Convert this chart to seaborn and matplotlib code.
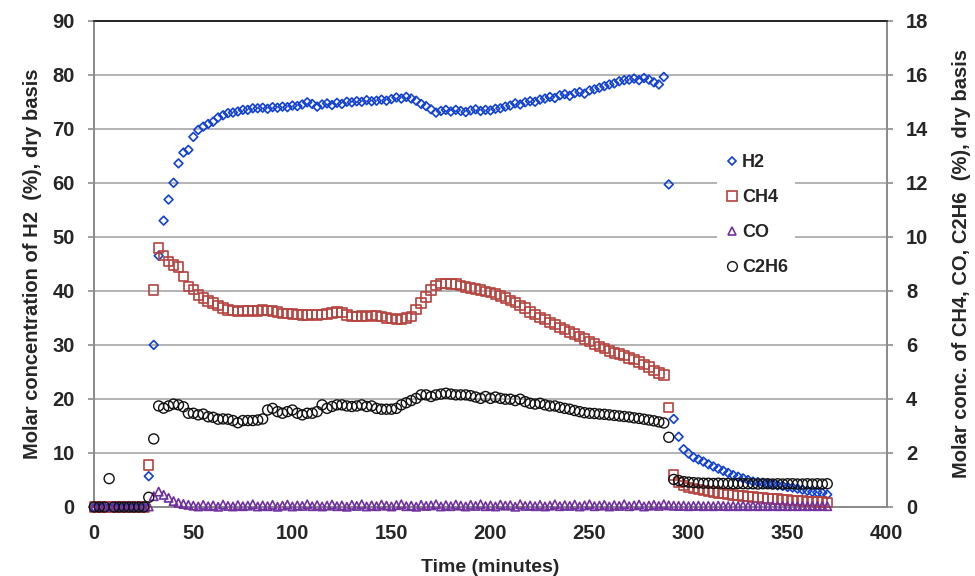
import matplotlib
matplotlib.use("Agg")
import matplotlib.pyplot as plt
from matplotlib.lines import Line2D
import numpy as np
import pandas as pd
import seaborn as sns

# sampling grid, one reading every 2.5 minutes
time_min = np.arange(0, 372.5, 2.5)

# H2, left axis (%)
h2 = [0.0] * 11 + [
    5.7, 30.0, 46.5, 53.0, 56.9, 60.0, 63.6, 65.6, 66.1, 68.5, 69.8, 70.4,
    70.9, 71.3, 72.1, 72.5, 72.9, 73.0, 73.2, 73.5, 73.5, 73.8, 73.8,
    73.9, 73.7, 74.0, 73.9, 74.1, 74.0, 74.3, 74.2, 74.5, 74.9,
    74.6, 74.1, 74.5, 74.7, 74.4, 74.8, 74.6, 75.0, 74.9, 75.1,
    75.0, 75.3, 75.1, 75.2, 75.4, 75.2, 75.5, 75.8, 75.6, 75.9,
    75.6, 75.2, 74.6, 74.2, 73.6, 73.0, 73.3, 73.5, 73.2, 73.5,
    73.3, 73.1, 73.4, 73.6, 73.3, 73.5, 73.4, 73.7, 73.8, 74.1,
    74.3, 74.7, 74.5, 74.9, 75.1, 75.0, 75.4, 75.6, 75.9, 75.7,
    76.2, 76.4, 76.1, 76.6, 76.8, 76.5, 77.1, 77.3, 77.6, 77.9,
    78.2, 78.4, 78.8, 79.0, 79.1, 79.3, 79.0, 79.4, 79.1, 78.6,
    78.2,
    79.6, 59.7, 16.3, 13.0, 10.7, 9.9, 9.2, 8.8, 8.4, 7.9, 7.5, 7.1,
    6.7, 6.3, 5.9, 5.6, 5.3, 5.0, 4.7, 4.6, 4.5, 4.3, 4.2, 4.0,
    3.9, 3.7, 3.6, 3.4, 3.2, 3.0, 2.8, 2.7, 2.6, 2.3,
]

# CH4, right axis (%)
ch4 = [0.0] * 11 + [
    1.56, 8.04, 9.58, 9.30, 9.09, 8.96, 8.88, 8.53, 8.16, 8.06,
    7.85, 7.73, 7.62, 7.55, 7.45, 7.36, 7.30, 7.27, 7.24, 7.27,
    7.25, 7.28, 7.26, 7.29, 7.27, 7.25, 7.22, 7.17, 7.16, 7.14,
    7.12, 7.11, 7.10, 7.12, 7.10, 7.13, 7.15, 7.18, 7.22, 7.20,
    7.10, 7.05, 7.06, 7.07, 7.05, 7.08, 7.07, 7.06, 7.00, 6.97,
    6.93, 6.96, 6.99, 7.05, 7.32, 7.55, 7.78, 8.04, 8.20, 8.27,
    8.28, 8.25, 8.26, 8.20, 8.15, 8.11, 8.07, 8.03, 7.98, 7.94,
    7.88, 7.81, 7.74, 7.64, 7.56, 7.46, 7.36, 7.22, 7.12, 7.02,
    6.93, 6.83, 6.76, 6.64, 6.56, 6.48, 6.40, 6.31, 6.22, 6.12,
    6.04, 5.95, 5.86, 5.77, 5.70, 5.66, 5.60, 5.52, 5.45, 5.36,
    5.28, 5.18, 5.06, 4.96, 4.88, 3.69, 1.18, 0.90, 0.80, 0.72,
    0.68, 0.64, 0.61, 0.58, 0.55, 0.52, 0.50, 0.47, 0.45, 0.43,
    0.41, 0.39, 0.37, 0.35, 0.33, 0.32, 0.30, 0.29, 0.27, 0.26,
    0.25, 0.23, 0.22, 0.21, 0.20, 0.19, 0.18, 0.17,
]

# CO, right axis (%)
co = [0.0] * 11 + [
    0.02, 0.40, 0.57, 0.45, 0.34, 0.22, 0.15, 0.11, 0.08,
    0.05, 0.02, 0.08, 0.03, 0.06, 0.01, 0.09, 0.04, 0.02, 0.07, 0.03, 0.05,
    0.10, 0.02, 0.06, 0.03, 0.08, 0.01, 0.05, 0.09, 0.02, 0.06, 0.04, 0.10,
    0.03, 0.07, 0.02, 0.05, 0.09, 0.03, 0.06, 0.01, 0.08, 0.04, 0.10, 0.02,
    0.06, 0.03, 0.09, 0.05, 0.02, 0.07, 0.10, 0.03, 0.05, 0.01, 0.08, 0.04,
    0.06, 0.10, 0.02, 0.07, 0.03, 0.09, 0.05, 0.02, 0.08, 0.04, 0.10, 0.03,
    0.06, 0.02, 0.09, 0.05, 0.07, 0.01, 0.10, 0.04, 0.06, 0.03, 0.08, 0.02,
    0.05, 0.10, 0.03, 0.07, 0.04, 0.09, 0.02, 0.06, 0.10, 0.03, 0.05, 0.08,
    0.02, 0.07, 0.04, 0.10, 0.03, 0.06, 0.09, 0.02, 0.05, 0.08, 0.04, 0.10,
    0.06, 0.05, 0.04, 0.05, 0.03, 0.04, 0.05, 0.03, 0.04, 0.03, 0.05, 0.04,
    0.03, 0.04, 0.03, 0.05, 0.03, 0.04, 0.03, 0.04, 0.03, 0.05, 0.03, 0.04,
    0.03, 0.04, 0.03, 0.04, 0.03, 0.04, 0.03, 0.04, 0.03,
]

# C2H6, right axis (%)
c2h6 = [0.0, 0.0, 0.0, 1.05, 0.0, 0.0, 0.0, 0.0, 0.0, 0.0, 0.0] + [
    0.36, 2.52, 3.74, 3.66, 3.74, 3.81, 3.78, 3.71, 3.47, 3.47,
    3.41, 3.44, 3.34, 3.32, 3.25, 3.26, 3.25, 3.20, 3.12, 3.20,
    3.20, 3.20, 3.22, 3.26, 3.59, 3.65,
    3.53, 3.47, 3.53, 3.59, 3.47, 3.41, 3.47, 3.47, 3.53, 3.78,
    3.65, 3.72, 3.78, 3.78, 3.74, 3.72, 3.74, 3.78, 3.72, 3.74,
    3.65, 3.62, 3.62, 3.62, 3.65, 3.78, 3.86, 3.94, 4.02, 4.15,
    4.15, 4.09, 4.15, 4.18, 4.21, 4.18, 4.15, 4.15, 4.15, 4.12,
    4.07, 4.02, 4.09, 4.02, 4.07, 4.02, 3.99, 3.99, 3.94, 3.99,
    3.90, 3.84, 3.81, 3.84, 3.78, 3.74, 3.74, 3.69, 3.65, 3.62,
    3.57, 3.53, 3.49,
    3.47, 3.46, 3.44, 3.43, 3.41, 3.39, 3.37, 3.35, 3.33, 3.30,
    3.28, 3.25, 3.22, 3.19, 3.15, 3.11,
    2.58,
    1.02, 0.98, 0.94, 0.92,
    0.90, 0.89, 0.88, 0.88, 0.87, 0.88, 0.87, 0.87, 0.86, 0.87,
    0.86, 0.86, 0.86, 0.85, 0.86, 0.86, 0.85, 0.86, 0.85, 0.86,
    0.86, 0.85, 0.85, 0.86, 0.85, 0.86, 0.85, 0.86,
]

df = pd.DataFrame({"time": time_min, "H2": h2, "CH4": ch4, "CO": co, "C2H6": c2h6})

BLUE = "#1241D2"
RED = "#B4423E"
PURPLE = "#7030A0"
BLACK = "#111111"
GRID = "#A6A6A6"
SPINE = "#8C8C8C"

sns.set_theme(style="white")
plt.rcParams["font.family"] = ["Liberation Sans", "DejaVu Sans"]

fig = plt.figure(figsize=(9.75, 5.76), dpi=100)
ax = fig.add_axes([0.0967, 0.1198, 0.8127, 0.8442])
ax2 = ax.twinx()

sns.scatterplot(data=df, x="time", y="H2", ax=ax, marker="D", s=20,
                facecolor="none", edgecolor=BLUE, linewidth=1.2, clip_on=False, zorder=3)
sns.scatterplot(data=df, x="time", y="CH4", ax=ax2, marker="s", s=46,
                facecolor="none", edgecolor=RED, linewidth=1.2, clip_on=False, zorder=3)
sns.scatterplot(data=df, x="time", y="CO", ax=ax2, marker="^", s=36,
                facecolor="none", edgecolor=PURPLE, linewidth=1.2, clip_on=False, zorder=3)
sns.scatterplot(data=df, x="time", y="C2H6", ax=ax2, marker="o", s=52,
                facecolor="none", edgecolor=BLACK, linewidth=1.0, clip_on=False, zorder=3)

ax.set_xlim(0, 400)
ax.set_ylim(0, 90)
ax2.set_ylim(0, 18)
ax.set_xticks(range(0, 401, 50))
ax.set_yticks(range(0, 91, 10))
ax2.set_yticks(range(0, 19, 2))

ax.set_axisbelow(True)
ax.yaxis.grid(True, color=GRID, linewidth=1.2)
ax.xaxis.grid(False)

for a in (ax, ax2):
    for side in ("left", "right", "bottom"):
        a.spines[side].set_color(SPINE)
        a.spines[side].set_linewidth(1.3)
    a.spines["top"].set_color("#222222")
    a.spines["top"].set_linewidth(1.2)
    a.tick_params(axis="both", which="major", length=4, width=1.2, color=SPINE,
                  labelsize=14.5, pad=10, direction="out")
    for lbl in a.get_xticklabels() + a.get_yticklabels():
        lbl.set_fontweight("bold")

ax.tick_params(axis="x", pad=8)
ax.set_xlabel("Time (minutes)", fontsize=14, fontweight="bold", labelpad=12)
ax.set_ylabel("Molar concentration of H2  (%), dry basis", fontsize=14.5, fontweight="bold")
ax2.set_ylabel("Molar conc. of CH4, CO, C2H6  (%), dry basis", fontsize=14.5, fontweight="bold")
ax.yaxis.set_label_coords(-0.066, 0.5)
ax2.yaxis.set_label_coords(1.082, 0.5)

handles = [
    Line2D([], [], marker="D", ls="none", mfc="none", mec=BLUE, ms=4.4, mew=1.2),
    Line2D([], [], marker="s", ls="none", mfc="none", mec=RED, ms=6.8, mew=1.2),
    Line2D([], [], marker="^", ls="none", mfc="none", mec=PURPLE, ms=6.0, mew=1.2),
    Line2D([], [], marker="o", ls="none", mfc="none", mec=BLACK, ms=7.0, mew=1.0),
]
leg = ax2.legend(handles, ["H2", "CH4", "CO", "C2H6"], loc="upper left",
                 bbox_to_anchor=(0.775, 0.759), frameon=True, fancybox=False,
                 facecolor="white", edgecolor="none", framealpha=1,
                 prop={"weight": "bold", "size": 13}, handlelength=0.8,
                 handletextpad=0.15, labelspacing=1.0, borderpad=0.4)

fig.savefig("out.png", dpi=100)
